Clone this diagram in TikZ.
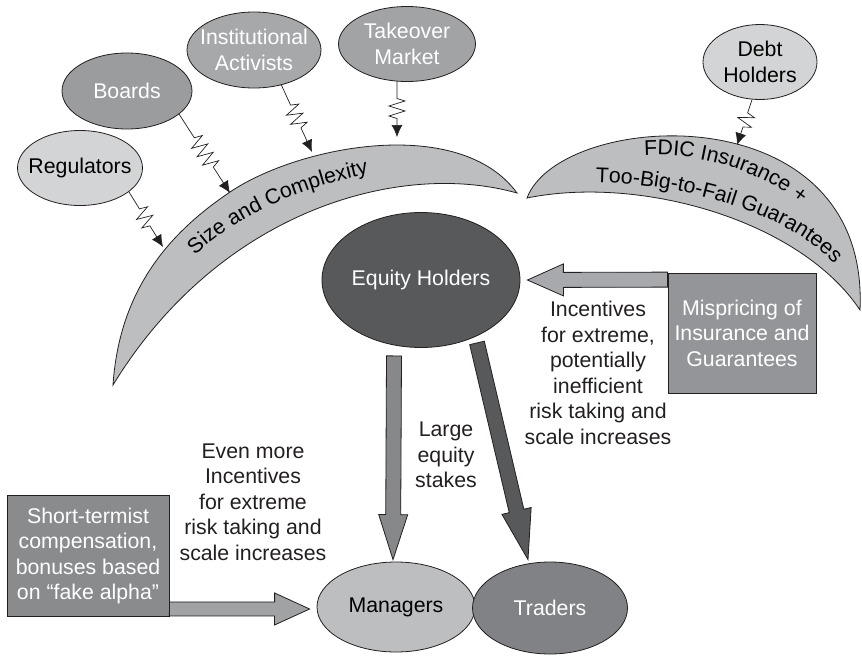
\documentclass[tikz,border=0pt]{standalone}
\usepackage{fontspec}
\setmainfont{Liberation Sans}
\usetikzlibrary{arrows.meta,calc,shapes.geometric,decorations.pathmorphing,decorations.text}
\definecolor{ink}{HTML}{231F20}
\definecolor{pale}{HTML}{D3D4D6}
\definecolor{boardgray}{HTML}{9B9C9E}
\definecolor{instgray}{HTML}{A7A8AA}
\definecolor{tkogray}{HTML}{A2A3A5}
\definecolor{bandgray}{HTML}{BCBEC0}
\definecolor{eqgray}{HTML}{58595B}
\definecolor{mispgray}{HTML}{939598}
\definecolor{arrgray}{HTML}{A7A9AC}
\definecolor{vertgray}{HTML}{87888A}
\definecolor{trdgray}{HTML}{808285}
\definecolor{sttgray}{HTML}{8A8B8D}
\definecolor{sttarr}{HTML}{A0A2A4}
\newcommand{\lbl}{\fontsize{21.3}{25.5}\selectfont}
\newcommand{\arcfont}{\fontsize{21.3}{25}\selectfont}
% #1 fill, #2 from, #3 tip, #4 half shaft, #5 half head, #6 head length
\newcommand{\blockarrow}[6]{%
  \coordinate (bah) at ($(#3)!#6!(#2)$);
  \draw[blk,fill=#1] ($(#2)!#4!90:(#3)$) -- ($(bah)!#4!90:(#3)$) -- ($(bah)!#5!90:(#3)$)
    -- (#3) -- ($(bah)!#5!-90:(#3)$) -- ($(bah)!#4!-90:(#3)$) -- ($(#2)!#4!-90:(#3)$) -- cycle;}

\begin{document}
\begin{tikzpicture}[x=1pt,y=-1pt,font=\lbl,
  oval/.style={ellipse,draw=ink,line width=0.8pt,inner xsep=-20pt,inner ysep=-10pt,align=center},
  box/.style={rectangle,draw=ink,line width=0.8pt,inner sep=0pt,align=center,text=white},
  squig/.style={draw=ink,line width=0.7pt,-{Latex[length=12pt,width=11pt]},decorate,
    decoration={zigzag,segment length=10pt,amplitude=8pt,pre length=#1,post length=#1}},
  band/.style={draw=ink,line width=0.8pt,fill=bandgray},
  blk/.style={draw=ink,line width=0.8pt},
  note/.style={align=center,text=ink}]

  \useasboundingbox (0,0) rectangle (862,656);

  % the two bands
  \draw[band] (113,385) .. controls (120,280) and (180,226) .. (230,192)
    .. controls (300,145) and (460,115) .. (517,193)
    .. controls (400,160) and (220,210) .. (113,385) -- cycle;
  \draw[band] (527,198) .. controls (560,110) and (870,90) .. (860,310)
    .. controls (800,220) and (640,175) .. (527,198) -- cycle;
  \path[decorate,decoration={text along path,text align=center,
    text={|\arcfont|Size and Complexity}}] (188,262) .. controls (228,222) and (290,188) .. (378,172);
  \path[decorate,decoration={text along path,text align=center,
    text={|\arcfont|FDIC Insurance +}}] (638,156) .. controls (698,150) and (766,173) .. (806,208);
  \path[decorate,decoration={text along path,text align=center,
    text={|\arcfont|Too-Big-to-Fail Guarantees}}] (583,182) .. controls (670,181) and (796,210) .. (842,274);
  \coordinate (sc1) at (163,247);
  \coordinate (sc2) at (230,193);
  \coordinate (sc3) at (312,152);
  \coordinate (sc4) at (397,137);
  \coordinate (sc5) at (737,145);

  % outside forces
  \node[oval,fill=pale,minimum width=125pt,minimum height=75pt] (reg) at (80,168) {Regulators};
  \node[oval,fill=boardgray,text=white,minimum width=130pt,minimum height=76pt] (brd) at (127,91) {Boards};
  \node[oval,fill=instgray,text=white,minimum width=134pt,minimum height=76pt] (inst) at (254,50) {Institutional\\Activists};
  \node[oval,fill=tkogray,text=white,minimum width=137pt,minimum height=75pt] (tko) at (407,44) {Takeover\\Market};
  \node[oval,fill=pale,minimum width=114pt,minimum height=75pt] (debt) at (760,62) {Debt\\Holders};

  % owners and staff
  \node[oval,fill=eqgray,text=white,minimum width=198pt,minimum height=135pt] (eq) at (421,280) {Equity Holders};
  \node[oval,fill=bandgray,minimum width=158pt,minimum height=90pt] (mgr) at (396,607) {Managers};
  \node[oval,fill=trdgray,text=white,minimum width=155pt,minimum height=92pt] (trd) at (550,608) {Traders};

  \node[box,fill=mispgray,minimum width=148pt,minimum height=120pt] (misp) at (742,333)
    {Mispricing of\\Insurance and\\Guarantees};
  \node[box,fill=sttgray,minimum width=162pt,minimum height=121pt] (stt) at (88,556)
    {Short-termist\\compensation,\\bonuses based\\on ``fake alpha''};

  \node[note] (inc) at (598,373) {Incentives\\for extreme,\\potentially\\inefficient\\risk taking and\\scale increases};
  \node[note] (more) at (253,502) {Even more\\Incentives\\for extreme\\risk taking and\\scale increases};
  \node[note] (stake) at (446,455) {Large\\equity\\stakes};

  % block arrows
  \coordinate (a1s) at ($(misp.north west)+(0,7)$);
  \coordinate (a1t) at ($(eq.east)+(7,0)$);
  \blockarrow{arrgray}{a1s}{a1t}{7.5pt}{16pt}{36pt}
  \coordinate (a2s) at ($(eq.south)+(-27,8)$);
  \coordinate (a2t) at ($(mgr.north)+(-3,-2)$);
  \blockarrow{vertgray}{a2s}{a2t}{7.5pt}{14.5pt}{45pt}
  \coordinate (a3s) at ($(eq.south)+(56,-5)$);
  \coordinate (a3t) at ($(trd.north)+(-22,-2)$);
  \blockarrow{eqgray}{a3s}{a3t}{7.5pt}{15pt}{50pt}
  \coordinate (a4s) at ($(stt.south east)+(0,-8)$);
  \coordinate (a4t) at ($(mgr.west)+(-7,2)$);
  \blockarrow{sttarr}{a4s}{a4t}{7pt}{16pt}{35pt}

  % squiggles
  \draw[squig=20pt] (reg.-26) -- (sc1);
  \draw[squig=28pt] (brd.-24) -- (sc2);
  \draw[squig=22pt] (inst.-52) -- (sc3);
  \draw[squig=17pt] (tko.-105) -- (sc4);
  \draw[squig=14pt] (debt.-102) -- (sc5);
\end{tikzpicture}
\end{document}
